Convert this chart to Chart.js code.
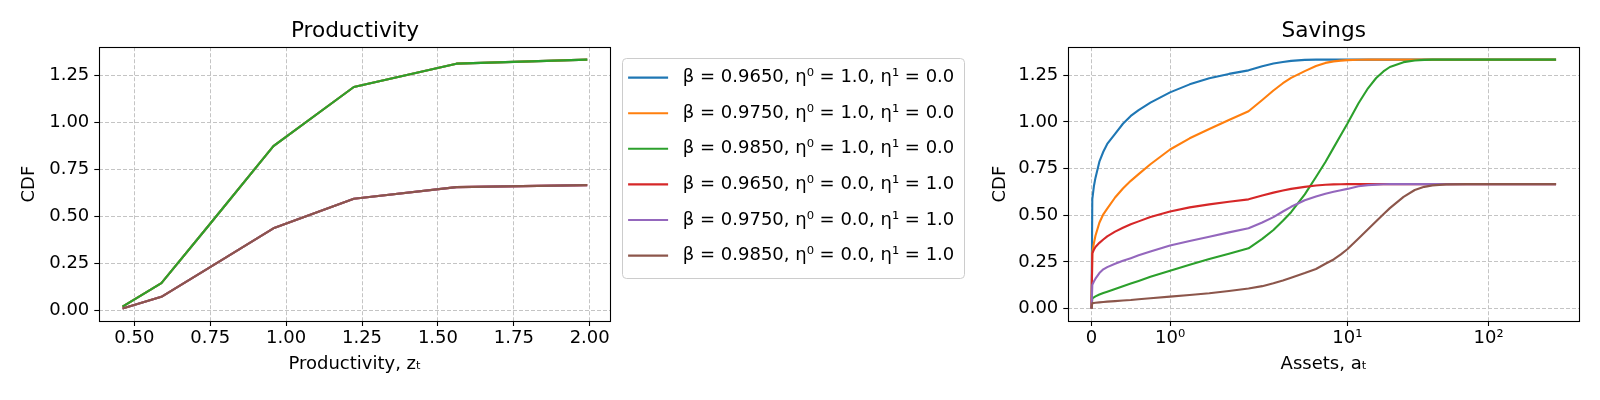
<!DOCTYPE html>
<html>
<head>
<meta charset="utf-8">
<script src="https://cdn.jsdelivr.net/npm/chart.js@4.4.1/dist/chart.umd.min.js"></script>
<style>
  html, body { margin: 0; padding: 0; background: #fff; }
  #wrap { position: relative; width: 1600px; height: 400px; }
  #prodBox { position: absolute; left: 0; top: 0; width: 990px; height: 400px; }
  #savBox { position: absolute; left: 990px; top: 0; width: 610px; height: 400px; }
</style>
</head>
<body>
<div id="wrap">
  <div id="prodBox"><canvas id="prodChart" width="990" height="400"></canvas></div>
  <div id="savBox"><canvas id="savChart" width="610" height="400"></canvas></div>
</div>
<script>
// Series labels and colours (matplotlib tab10)
const seriesLabels = [
  'β = 0.9650, η⁰ = 1.0, η¹ = 0.0',
  'β = 0.9750, η⁰ = 1.0, η¹ = 0.0',
  'β = 0.9850, η⁰ = 1.0, η¹ = 0.0',
  'β = 0.9650, η⁰ = 0.0, η¹ = 1.0',
  'β = 0.9750, η⁰ = 0.0, η¹ = 1.0',
  'β = 0.9850, η⁰ = 0.0, η¹ = 1.0'
];
const seriesColors = ['#1f77b4', '#ff7f0e', '#2ca02c', '#d62728', '#9467bd', '#8c564b'];

// Productivity CDF (the three betas coincide for each eta setting)
const zGrid = [0.461, 0.589, 0.751, 0.958, 1.223, 1.561, 1.992];
const prodCdfEta0 = [0.021, 0.146, 0.464, 0.874, 1.188, 1.312, 1.3333];
const prodCdfEta1 = [0.0105, 0.073, 0.232, 0.437, 0.594, 0.656, 0.6667];

// Savings CDF over assets
const assetGrid = [0, 0.01, 0.03, 0.05, 0.1, 0.15, 0.2, 0.3, 0.4, 0.5,
  0.6, 0.75, 1, 1.25, 1.5, 1.75, 2, 2.5, 3, 3.5,
  4, 5, 6, 7, 8, 9, 10, 12, 14, 16,
  18, 20, 25, 30, 35, 40, 50, 70, 100, 200,
  300];
const savB9650Eta0 = [0, 0.586, 0.655, 0.70, 0.787, 0.84, 0.882, 0.936, 0.99, 1.032,
  1.063, 1.103, 1.158, 1.201, 1.234, 1.257, 1.276, 1.298, 1.313, 1.321,
  1.327, 1.332, 1.3333, 1.3333, 1.3333, 1.3333, 1.3333, 1.3333, 1.3333, 1.3333,
  1.3333, 1.3333, 1.3333, 1.3333, 1.3333, 1.3333, 1.3333, 1.3333, 1.3333, 1.3333,
  1.3333];
const savB9750Eta0 = [0, 0.30, 0.35, 0.39, 0.46, 0.505, 0.535, 0.595, 0.643, 0.684,
  0.72, 0.773, 0.852, 0.912, 0.962, 1.01, 1.057, 1.117, 1.168, 1.207,
  1.236, 1.272, 1.299, 1.316, 1.324, 1.328, 1.331, 1.333, 1.3333, 1.3333,
  1.3333, 1.3333, 1.3333, 1.3333, 1.3333, 1.3333, 1.3333, 1.3333, 1.3333, 1.3333,
  1.3333];
const savB9850Eta0 = [0, 0.055, 0.06, 0.065, 0.075, 0.083, 0.09, 0.105, 0.12, 0.134,
  0.148, 0.17, 0.203, 0.235, 0.265, 0.294, 0.323, 0.373, 0.421, 0.47,
  0.516, 0.612, 0.705, 0.785, 0.862, 0.93, 0.99, 1.10, 1.18, 1.235,
  1.27, 1.294, 1.32, 1.329, 1.332, 1.3333, 1.3333, 1.3333, 1.3333, 1.3333,
  1.3333];
const savB9650Eta1 = [0, 0.296, 0.315, 0.33, 0.352, 0.37, 0.387, 0.412, 0.433, 0.452,
  0.467, 0.49, 0.52, 0.542, 0.558, 0.572, 0.585, 0.606, 0.621, 0.632,
  0.641, 0.652, 0.659, 0.663, 0.665, 0.666, 0.6665, 0.6667, 0.6667, 0.6667,
  0.6667, 0.6667, 0.6667, 0.6667, 0.6667, 0.6667, 0.6667, 0.6667, 0.6667, 0.6667,
  0.6667];
const savB9750Eta1 = [0, 0.127, 0.145, 0.16, 0.19, 0.21, 0.222, 0.24, 0.256, 0.27,
  0.285, 0.305, 0.338, 0.362, 0.385, 0.408, 0.43, 0.461, 0.49, 0.52,
  0.545, 0.58, 0.60, 0.615, 0.626, 0.634, 0.641, 0.655, 0.661, 0.664,
  0.666, 0.6667, 0.6667, 0.6667, 0.6667, 0.6667, 0.6667, 0.6667, 0.6667, 0.6667,
  0.6667];
const savB9850Eta1 = [0, 0.029, 0.030, 0.031, 0.033, 0.035, 0.037, 0.04, 0.043, 0.046,
  0.05, 0.055, 0.064, 0.073, 0.082, 0.094, 0.107, 0.12, 0.135, 0.15,
  0.165, 0.19, 0.212, 0.24, 0.263, 0.29, 0.318, 0.375, 0.425, 0.468,
  0.505, 0.538, 0.598, 0.635, 0.652, 0.66, 0.665, 0.6667, 0.6667, 0.6667,
  0.6667];

// Tick values and labels
const cdfTicks = [0, 0.25, 0.5, 0.75, 1.0, 1.25];
const prodTicks = [0.5, 0.75, 1.0, 1.25, 1.5, 1.75, 2.0];
const assetTicks = [0, 1, 10, 100];
const assetTickLabels = ['0', '10⁰', '10¹', '10²'];

Chart.defaults.font.family = "'DejaVu Sans', sans-serif";
Chart.defaults.font.size = 18;
Chart.defaults.color = '#000';

// symlog transform, linthresh 2, linscale 1 (like matplotlib)
const LIN_THRESH = 2;
const LIN_SCALE = 1 / (1 - 1 / 10);
function symlog(v) {
  const a = Math.abs(v);
  const t = a <= LIN_THRESH ? a * LIN_SCALE : LIN_THRESH * (LIN_SCALE + Math.log10(a / LIN_THRESH));
  return v < 0 ? -t : t;
}
function symexp(t) {
  const a = Math.abs(t);
  const v = a <= LIN_THRESH * LIN_SCALE ? a / LIN_SCALE : LIN_THRESH * Math.pow(10, a / LIN_THRESH - LIN_SCALE);
  return t < 0 ? -v : v;
}

class SymlogScale extends Chart.Scale {
  static id = 'symlog';
  static defaults = {};
  determineDataLimits() {
    const {min, max} = this.getMinMax(true);
    const lo = symlog(min), hi = symlog(max), pad = (hi - lo) * 0.05;
    this.min = symexp(lo - pad);
    this.max = symexp(hi + pad);
  }
  buildTicks() {
    return assetTicks.map(v => ({value: v}));
  }
  configure() {
    super.configure();
    this._tLo = symlog(this.min);
    this._tSpan = symlog(this.max) - this._tLo;
  }
  getPixelForValue(value) {
    return this.getPixelForDecimal((symlog(value) - this._tLo) / this._tSpan);
  }
  getValueForPixel(pixel) {
    return symexp(this._tLo + this.getDecimalForPixel(pixel) * this._tSpan);
  }
}
Chart.register(SymlogScale);

// black box around the plotting area
const axesFrame = {
  id: 'axesFrame',
  afterDatasetsDraw(chart) {
    const {ctx, chartArea: a} = chart;
    ctx.save();
    ctx.strokeStyle = '#000';
    ctx.lineWidth = 1.1;
    ctx.strokeRect(Math.round(a.left) + 0.5, Math.round(a.top) + 0.5,
      Math.round(a.right - a.left), Math.round(a.bottom - a.top));
    ctx.restore();
  }
};

// rounded grey frame around the legend
const legendFrame = {
  id: 'legendFrame',
  afterDraw(chart) {
    const boxes = chart.legend && chart.legend.legendHitBoxes;
    if (!chart.options.plugins.legend.display || !boxes || !boxes.length) return;
    const left = Math.min(...boxes.map(b => b.left)) - 6;
    const right = Math.max(...boxes.map(b => b.left + b.width)) + 10;
    const top = Math.min(...boxes.map(b => b.top)) - 11;
    const bottom = Math.max(...boxes.map(b => b.top + b.height)) + 12.5;
    const ctx = chart.ctx;
    ctx.save();
    ctx.strokeStyle = '#cccccc';
    ctx.lineWidth = 1;
    ctx.beginPath();
    ctx.roundRect(Math.round(left) + 0.5, Math.round(top) + 0.5, Math.round(right - left), Math.round(bottom - top), 4);
    ctx.stroke();
    ctx.restore();
  }
};

function paddedRange(values) {
  const lo = Math.min(...values), hi = Math.max(...values), m = (hi - lo) * 0.05;
  return {min: lo - m, max: hi + m};
}

const gridStyle = {
  color: '#c4c4c4',
  lineWidth: 1,
  tickColor: '#000',
  tickLength: 5,
  tickWidth: 1.1
};

function cdfAxis(values, axisWidth, titlePadTop) {
  const r = paddedRange(values);
  return {
    min: r.min,
    max: r.max,
    afterBuildTicks: s => { s.ticks = cdfTicks.map(v => ({value: v})); },
    afterFit: s => { s.width = axisWidth; },
    ticks: { padding: 5, callback: v => v.toFixed(2) },
    grid: gridStyle,
    border: { display: false, dash: [4, 2] },
    title: { display: true, text: 'CDF', padding: { top: titlePadTop, bottom: 0 } }
  };
}

// later series are drawn on top, as in matplotlib
function makeDataset(i, xs, ys) {
  return {
    label: seriesLabels[i],
    data: xs.map((x, k) => ({x: x, y: ys[k]})),
    borderColor: seriesColors[i],
    backgroundColor: seriesColors[i],
    borderWidth: 2.1,
    borderJoinStyle: 'round',
    pointRadius: 0,
    tension: 0,
    fill: false,
    order: seriesLabels.length - 1 - i
  };
}

function titleOptions(text) {
  return {
    display: true,
    text: text,
    fullSize: false,
    font: { size: 21.6, weight: 'normal' },
    padding: { top: 18.7, bottom: 2.6 }
  };
}

// Productivity chart (with the legend on its right)
const prodPadding = {left: 0, top: 0, right: 40, bottom: 0};
const prodSeries = [prodCdfEta0, prodCdfEta0, prodCdfEta0, prodCdfEta1, prodCdfEta1, prodCdfEta1];
const prodRange = paddedRange(zGrid);

const prodChart = new Chart(document.getElementById('prodChart'), {
  type: 'line',
  data: {
    datasets: prodSeries.map((ys, i) => makeDataset(i, zGrid, ys))
  },
  options: {
    responsive: false,
    animation: false,
    layout: { padding: prodPadding },
    plugins: {
      title: titleOptions('Productivity'),
      legend: {
        display: true,
        position: 'right',
        align: 'start',
        fullSize: false,
        maxWidth: 420,
        title: { display: true, text: '', font: { size: 1 }, padding: { top: 2.6, bottom: 0 } },
        labels: {
          usePointStyle: true,
          pointStyle: 'line',
          pointStyleWidth: 40,
          padding: 17.6,
          font: { size: 18 },
          sort: (a, b) => a.datasetIndex - b.datasetIndex,
          // a little more room between the sample line and the text
          generateLabels: chart => Chart.defaults.plugins.legend.labels.generateLabels(chart)
            .map(item => Object.assign(item, { text: ' ' + item.text }))
        }
      },
      tooltip: { enabled: false }
    },
    scales: {
      x: {
        type: 'linear',
        min: prodRange.min,
        max: prodRange.max,
        afterBuildTicks: s => { s.ticks = prodTicks.map(v => ({value: v})); },
        afterFit: s => { s.height = 79; },
        ticks: { padding: 2, maxRotation: 0, callback: v => v.toFixed(2) },
        grid: gridStyle,
        border: { display: false, dash: [4, 2] },
        title: { display: true, text: 'Productivity, zₜ', padding: { top: 0, bottom: 24.5 } }
      },
      y: cdfAxis(prodCdfEta0.concat(prodCdfEta1), 99.3, 18.5)
    }
  },
  plugins: [axesFrame, legendFrame]
});

// pin the plotting area's right edge so the legend sits where it should
prodPadding.right += prodChart.chartArea.right - 610.5;
prodChart.update();

// Savings chart (symlog x axis)
const savSeries = [savB9650Eta0, savB9750Eta0, savB9850Eta0, savB9650Eta1, savB9750Eta1, savB9850Eta1];

new Chart(document.getElementById('savChart'), {
  type: 'line',
  data: {
    datasets: savSeries.map((ys, i) => makeDataset(i, assetGrid, ys))
  },
  options: {
    responsive: false,
    animation: false,
    layout: { padding: { left: 0, top: 0, right: 20.7, bottom: 0 } },
    plugins: {
      title: titleOptions('Savings'),
      legend: { display: false },
      tooltip: { enabled: false }
    },
    scales: {
      x: {
        type: 'symlog',
        afterFit: s => { s.height = 79; },
        ticks: { padding: 2, maxRotation: 0, callback: (v, i) => assetTickLabels[i] },
        grid: gridStyle,
        border: { display: false, dash: [4, 2] },
        title: { display: true, text: 'Assets, aₜ', padding: { top: 0, bottom: 24.5 } }
      },
      y: cdfAxis([].concat(...savSeries), 78.3, 0)
    }
  },
  plugins: [axesFrame]
});
</script>
</body>
</html>
